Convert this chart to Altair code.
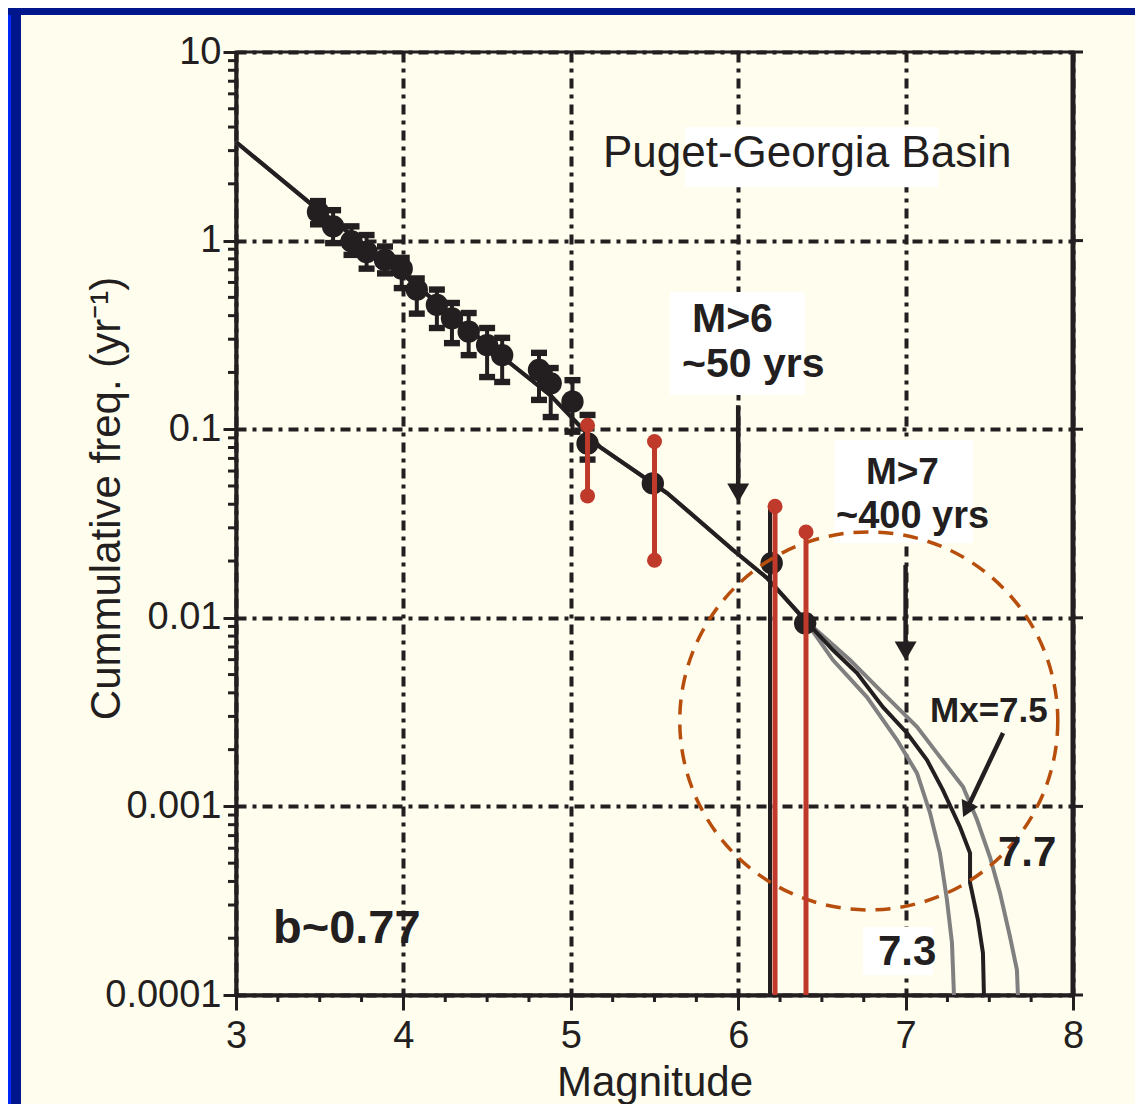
import altair as alt
import pandas as pd

# ---------------- data ----------------
# magnitude-frequency curve, shared part (all three Mx curves coincide here)
common_M = [3.000, 3.442, 3.980, 4.577, 4.876, 5.174, 5.575, 5.969, 6.172, 6.399]
common_N = [3.33, 1.58, 0.682, 0.247, 0.152, 0.0805, 0.0459, 0.0229, 0.01626, 0.00973]
# tails
tail75_M = [6.566, 6.710, 6.865, 7.008, 7.128, 7.223, 7.325, 7.385, 7.385, 7.432, 7.462, 7.468]
tail75_N = [0.00675, 0.00509, 0.00336, 0.00245, 0.00176, 0.00122, 0.000778, 0.000566,
            0.000393, 0.000250, 0.000167, 0.0001]
tail77_M = [6.668, 6.865, 7.068, 7.205, 7.343, 7.427, 7.504, 7.564, 7.624, 7.665, 7.671]
tail77_N = [0.00597, 0.00399, 0.00264, 0.00183, 0.00127, 0.000847, 0.000539, 0.000347,
            0.000203, 0.000136, 0.0001]
tail73_M = [6.566, 6.769, 6.949, 7.068, 7.146, 7.205, 7.247, 7.277, 7.289]
tail73_N = [0.00597, 0.00380, 0.00225, 0.00150, 0.000923, 0.000566, 0.000319, 0.000189, 0.0001]

# catalogue points (black circles)
pts_M = [3.49, 3.58, 3.69, 3.78, 3.89, 3.99, 4.08, 4.20, 4.29, 4.39, 4.50, 4.59,
         4.81, 4.88, 5.01, 5.10, 5.49, 6.20, 6.40]
pts_N = [1.42, 1.19, 0.99, 0.87, 0.79, 0.71, 0.55, 0.456, 0.387, 0.329, 0.279, 0.247,
         0.206, 0.175, 0.140, 0.084, 0.0516, 0.0195, 0.00935]
# error bars of the catalogue points
eb_M = [3.49, 3.58, 3.69, 3.78, 3.89, 3.99, 4.08, 4.20, 4.29, 4.39, 4.50, 4.59,
        4.81, 4.88, 5.01, 5.10]
eb_lo = [1.22, 0.97, 0.84, 0.71, 0.67, 0.56, 0.41, 0.344, 0.286, 0.247, 0.189, 0.178,
         0.143, 0.116, 0.097, 0.069]
eb_hi = [1.62, 1.45, 1.19, 1.07, 0.93, 0.81, 0.63, 0.55, 0.467, 0.413, 0.344, 0.305,
         0.254, 0.211, 0.182, 0.119]
# long black bar at M 6.2
blk_M = [6.19]
blk_lo = [0.0001]
blk_hi = [0.039]
# red paleo-seismic ranges
red_M = [5.10, 5.50, 6.22, 6.405]
red_lo = [0.0443, 0.0202, 0.0001, 0.0001]
red_hi = [0.105, 0.086, 0.039, 0.0285]

# axis ticks
x_major = [3, 4, 5, 6, 7, 8]
x_minor = [3.25, 3.5, 3.75, 4.25, 4.5, 4.75, 5.25, 5.5, 5.75, 6.25, 6.5, 6.75,
           7.25, 7.5, 7.75]
y_major = [0.0001, 0.001, 0.01, 0.1, 1, 10]
y_minor = [m * d for d in [0.0001, 0.001, 0.01, 0.1, 1] for m in range(2, 10)]

# ---------------- annotation placement (data units) ----------------
boxes_M = [5.682, 5.593, 6.572, 6.746]
boxes_M2 = [7.194, 6.399, 7.403, 7.164]
boxes_N = [4.0, 0.534, 0.0877, 0.0002296]
boxes_N2 = [1.92, 0.152, 0.0249, 0.0001277]

arrow_M = [6.0, 7.0, 7.582]
arrow_N = [0.134, 0.01905, 0.00245]
arrow_M2 = [6.0, 7.0, 7.364]
arrow_N2 = [0.0459, 0.00667, 0.000957]

circle_M = [6.78]
circle_N = [0.00284]

# ---------------- style ----------------
W, H = 837, 943
INK = "#231F20"
CREAM = "#FFFDEE"
RED = "#BF3A2B"
GRAY = "#808080"
ORANGE = "#B84E0C"
NAVY = "#00168C"
BLUE = "#0028FF"
FONT = "Liberation Sans"

xscale = alt.Scale(domain=[3, 8], nice=False, zero=False)
yscale = alt.Scale(type="log", domain=[0.0001, 10], nice=False)

xaxis = alt.Axis(values=x_major, format="d", title="Magnitude", grid=True,
                 gridDash=[10, 6, 4, 6], gridColor=INK, gridWidth=4, gridOpacity=1,
                 tickSize=15, tickWidth=3, tickColor=INK,
                 domainColor=INK, domainWidth=4,
                 labelFont=FONT, labelFontSize=38, labelColor=INK, labelPadding=7,
                 labelFlush=False, labelOverlap=False,
                 titleFont=FONT, titleFontSize=42, titleFontWeight="normal",
                 titleColor=INK, titleBaseline="alphabetic", titleY=100)
yaxis = alt.Axis(values=y_major, format="~g", title="Cummulative freq. (yr⁻¹)", grid=True,
                 gridDash=[10, 6, 4, 6], gridColor=INK, gridWidth=4, gridOpacity=1,
                 tickSize=13, tickWidth=3, tickColor=INK,
                 domainColor=INK, domainWidth=4,
                 labelFont=FONT, labelFontSize=38, labelColor=INK, labelPadding=2,
                 labelFlush=False, labelOverlap=False,
                 titleFont=FONT, titleFontSize=42, titleFontWeight="normal",
                 titleColor=INK, titleBaseline="alphabetic", titleAngle=-90,
                 titleAlign="center", titleX=-117, titleY=446)

X = alt.X("M:Q", scale=xscale, axis=xaxis)
Y = alt.Y("N:Q", scale=yscale, axis=yaxis)

one = pd.DataFrame({"k": [0]})

# curves table
rows = []
for name, tM, tN in [("7.3", tail73_M, tail73_N), ("7.7", tail77_M, tail77_N),
                     ("7.5", tail75_M, tail75_N)]:
    ms = common_M + tM
    ns = common_N + tN
    for i, (m, n) in enumerate(zip(ms, ns)):
        rows.append({"M": m, "N": n, "curve": name, "idx": i})
curves = pd.DataFrame(rows)
gray_curves = curves[curves.curve != "7.5"]
black_curve = curves[curves.curve == "7.5"]

pts = pd.DataFrame({"M": pts_M, "N": pts_N})
ebars = pd.DataFrame({"M": eb_M, "N": eb_lo, "N2": eb_hi})
caps = pd.DataFrame({"M": eb_M + eb_M, "N": eb_lo + eb_hi})
blk = pd.DataFrame({"M": blk_M, "N": blk_lo, "N2": blk_hi})
red = pd.DataFrame({"M": red_M, "N": red_lo, "N2": red_hi})
red_dots = pd.DataFrame({"M": red_M + [m for m, lo in zip(red_M, red_lo) if lo > 0.0001],
                         "N": red_hi + [lo for lo in red_lo if lo > 0.0001]})
boxes = pd.DataFrame({"M": boxes_M, "M2": boxes_M2, "N": boxes_N, "N2": boxes_N2})
arrows = pd.DataFrame({"M": arrow_M, "N": arrow_N, "M2": arrow_M2, "N2": arrow_N2})
heads_v = pd.DataFrame({"M": arrow_M2[:2], "N": arrow_N2[:2]})
heads_d = pd.DataFrame({"M": arrow_M2[2:], "N": arrow_N2[2:]})
circle = pd.DataFrame({"M": circle_M, "N": circle_N})

def text_layer(label, m, n, size, bold=True):
    d = pd.DataFrame({"M": [m], "N": [n], "t": [label]})
    return alt.Chart(d).mark_text(align="left", baseline="alphabetic", font=FONT,
                                  fontSize=size, fontWeight="bold" if bold else "normal",
                                  color=INK).encode(x=X, y=Y, text="t:N")

layers = []
# outer frame strips (decoration)
layers.append(alt.Chart(one).mark_rect(color=NAVY).encode(
    x=alt.value(-228), x2=alt.value(-215), y=alt.value(-44), y2=alt.value(H + 109)))
layers.append(alt.Chart(one).mark_rect(color=BLUE).encode(
    x=alt.value(-228), x2=alt.value(-225), y=alt.value(-44), y2=alt.value(H + 109)))
layers.append(alt.Chart(one).mark_rect(color=NAVY).encode(
    x=alt.value(-228), x2=alt.value(W + 62), y=alt.value(-44), y2=alt.value(-37)))

# white label boxes
layers.append(alt.Chart(boxes).mark_rect(color="white").encode(x=X, x2="M2:Q", y=Y, y2="N2:Q"))

# minor / extra ticks and right border
layers.append(alt.Chart(pd.DataFrame({"N": y_minor})).mark_rule(color=INK, strokeWidth=3).encode(
    y=Y, x=alt.value(0), x2=alt.value(-8)))
layers.append(alt.Chart(pd.DataFrame({"N": y_major})).mark_rule(color=INK, strokeWidth=3).encode(
    y=Y, x=alt.value(W), x2=alt.value(W + 10)))
layers.append(alt.Chart(pd.DataFrame({"M": x_minor})).mark_rule(color=INK, strokeWidth=3).encode(
    x=X, y=alt.value(H), y2=alt.value(H + 7)))
layers.append(alt.Chart(one).mark_rule(color=INK, strokeWidth=5).encode(
    x=alt.value(W), y=alt.value(0), y2=alt.value(H)))

# curves
layers.append(alt.Chart(gray_curves).mark_line(color=GRAY, strokeWidth=4).encode(
    x=X, y=Y, detail="curve:N", order="idx:Q"))
layers.append(alt.Chart(black_curve).mark_line(color=INK, strokeWidth=4).encode(
    x=X, y=Y, order="idx:Q"))

# catalogue points with error bars
layers.append(alt.Chart(ebars).mark_rule(color=INK, strokeWidth=4).encode(x=X, y=Y, y2="N2:Q"))
layers.append(alt.Chart(caps).mark_point(shape="M-1,-0.4L1,-0.4L1,0.4L-1,0.4Z", filled=True,
                                         opacity=1, color=INK, size=256).encode(x=X, y=Y))
layers.append(alt.Chart(blk).mark_rule(color=INK, strokeWidth=4).encode(x=X, y=Y, y2="N2:Q"))
layers.append(alt.Chart(pts).mark_point(shape="circle", filled=True, opacity=1, color=INK,
                                        size=500).encode(x=X, y=Y))

# dashed circle
layers.append(alt.Chart(circle).mark_point(shape="circle", filled=False, opacity=1, color=ORANGE,
                                           size=142900, strokeWidth=3.5,
                                           strokeDash=[15, 10]).encode(x=X, y=Y))

# red ranges
layers.append(alt.Chart(red).mark_rule(color=RED, strokeWidth=5).encode(x=X, y=Y, y2="N2:Q"))
layers.append(alt.Chart(red_dots).mark_point(shape="circle", filled=True, opacity=1, color=RED,
                                             size=225).encode(x=X, y=Y))

# arrows
layers.append(alt.Chart(arrows).mark_rule(color=INK, strokeWidth=4.5).encode(
    x=X, y=Y, x2="M2:Q", y2="N2:Q"))
layers.append(alt.Chart(heads_v).mark_point(shape="triangle-down", filled=True, opacity=1,
                                            color=INK, size=480).encode(x=X, y=Y))
layers.append(alt.Chart(heads_d).mark_point(shape="triangle-down", filled=True, opacity=1,
                                            color=INK, size=330, angle=25.5).encode(x=X, y=Y))

# texts
layers.append(text_layer("Puget-Georgia Basin", 5.192, 2.47, 44, bold=False))
layers.append(text_layer("M>6", 5.724, 0.327, 41))
layers.append(text_layer("~50 yrs", 5.664, 0.189, 41))
layers.append(text_layer("M>7", 6.763, 0.0512, 37))
layers.append(text_layer("~400 yrs", 6.584, 0.0299, 38))
layers.append(text_layer("Mx=7.5", 7.146, 0.00281, 35))
layers.append(text_layer("7.7", 7.552, 0.000483, 42))
layers.append(text_layer("7.3", 6.835, 0.0001442, 42))
layers.append(text_layer("b~0.77", 3.221, 0.000189, 47))

chart = alt.layer(*layers).properties(
    width=W, height=H,
    padding={"left": 228, "top": 44, "right": 62, "bottom": 109},
    autosize=alt.AutoSizeParams(type="none"),
    background=CREAM,
).configure_view(stroke=INK, strokeWidth=3)

chart.save("out.html", embed_options={"renderer": "svg", "actions": False})
